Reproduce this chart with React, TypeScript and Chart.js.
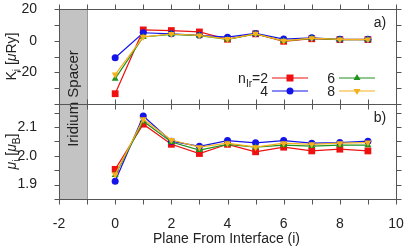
import { useEffect, useRef } from 'react';
import { Chart, registerables } from 'chart.js';

Chart.register(...registerables);

// Plane index measured from the interface
const planes = [0, 1, 2, 3, 4, 5, 6, 7, 8, 9];

// Layer-resolved anisotropy K_i (μRy) for each iridium spacer thickness
const kN2 = [-33.5, 6.8, 6.4, 5.5, 0.9, 4.3, -0.4, 1.2, 0.7, 0.7];
const kN4 = [-10.8, 5.0, 4.3, 3.4, 2.2, 4.6, 1.0, 1.8, 0.9, 0.9];
const kN6 = [-24.0, 2.3, 4.0, 3.2, 0.8, 4.2, -0.2, 1.5, 0.7, 0.7];
const kN8 = [-21.4, 2.4, 4.2, 3.3, 1.0, 4.3, -0.1, 1.6, 0.8, 0.8];

// Layer-resolved magnetic moment μ_i (μB)
const muN2 = [1.953, 2.11, 2.04, 2.008, 2.04, 2.014, 2.03, 2.017, 2.023, 2.017];
const muN4 = [1.912, 2.138, 2.051, 2.033, 2.053, 2.045, 2.053, 2.044, 2.046, 2.051];
const muN6 = [1.933, 2.12, 2.048, 2.02, 2.04, 2.03, 2.037, 2.034, 2.037, 2.037];
const muN8 = [1.935, 2.127, 2.055, 2.03, 2.044, 2.03, 2.044, 2.04, 2.044, 2.046];

// Spacer thickness labels
const spacerCounts = ['2', '4', '6', '8'];

// Axis ticks
const xTicks = [-2, -1, 0, 1, 2, 3, 4, 5, 6, 7, 8, 9, 10];
const xTickLabels = ['-2', '', '0', '', '2', '', '4', '', '6', '', '8', '', '10'];
const kTicks = [-40, -30, -20, -10, 0, 10, 20];
const kTickLabels = ['', '', '-20', '', '0', '', '20'];
const muTicks = [1.85, 1.9, 1.95, 2.0, 2.05, 2.1, 2.15];
const muTickLabels = ['', '1.9', '', '2.0', '', '2.1', ''];

// Spacer region along the plane axis
const spacerRange = [-2, -1];

const FONT = '"Liberation Sans", Arial, Helvetica, sans-serif';
const INK = '#222222';
const FRAME = '#555555';

type Style = { color: string; shape: 'rect' | 'circle' | 'tri' | 'triDown' };
const styles: Style[] = [
  { color: '#ee1111', shape: 'rect' },
  { color: '#1414e8', shape: 'circle' },
  { color: '#1f921f', shape: 'tri' },
  { color: '#f5b01c', shape: 'triDown' },
];

type Run = { t: string; sub?: boolean; it?: boolean };

function runFont(r: Run, size: number) {
  const s = r.sub ? size * 0.72 : size;
  return `${r.it ? 'italic ' : ''}${s}px ${FONT}`;
}

function drawRich(
  ctx: CanvasRenderingContext2D,
  runs: Run[],
  x: number,
  cy: number,
  size: number,
  align: 'left' | 'center' | 'right',
) {
  ctx.save();
  ctx.textBaseline = 'alphabetic';
  ctx.textAlign = 'left';
  let total = 0;
  const widths = runs.map((r) => {
    ctx.font = runFont(r, size);
    const w = ctx.measureText(r.t).width;
    total += w;
    return w;
  });
  let cx = align === 'left' ? x : align === 'center' ? x - total / 2 : x - total;
  const base = cy + size * 0.36;
  runs.forEach((r, i) => {
    ctx.font = runFont(r, size);
    ctx.fillText(r.t, cx, base + (r.sub ? size * 0.28 : 0));
    cx += widths[i];
  });
  ctx.restore();
}

function drawMarker(ctx: CanvasRenderingContext2D, shape: Style['shape'], x: number, y: number, color: string) {
  ctx.save();
  ctx.fillStyle = color;
  ctx.beginPath();
  if (shape === 'rect') {
    ctx.rect(x - 3.5, y - 3.5, 7, 7);
  } else if (shape === 'circle') {
    ctx.arc(x, y, 3.5, 0, Math.PI * 2);
  } else if (shape === 'tri') {
    ctx.moveTo(x, y - 4);
    ctx.lineTo(x + 3.5, y + 2);
    ctx.lineTo(x - 3.5, y + 2);
    ctx.closePath();
  } else {
    ctx.moveTo(x, y + 4);
    ctx.lineTo(x + 3.5, y - 2);
    ctx.lineTo(x - 3.5, y - 2);
    ctx.closePath();
  }
  ctx.fill();
  ctx.restore();
}

const decorations = {
  id: 'panelDecorations',
  beforeDatasetsDraw(chart: any) {
    const { ctx, chartArea, scales } = chart;
    const x = scales.x;
    const x0 = x.getPixelForValue(spacerRange[0]);
    const x1 = x.getPixelForValue(spacerRange[1]);
    ctx.save();
    ctx.fillStyle = '#c3c3c3';
    ctx.fillRect(x0, chartArea.top, x1 - x0, chartArea.bottom - chartArea.top);
    ctx.strokeStyle = '#9a9a9a';
    ctx.lineWidth = 1;
    ctx.beginPath();
    ctx.moveTo(Math.round(x1) + 0.5, chartArea.top);
    ctx.lineTo(Math.round(x1) + 0.5, chartArea.bottom);
    ctx.stroke();
    ctx.restore();

    // Rotated spacer caption
    ctx.save();
    ctx.fillStyle = INK;
    ctx.translate((x0 + x1) / 2 + 1, 98.5);
    ctx.rotate(-Math.PI / 2);
    ctx.font = `15px ${FONT}`;
    ctx.textAlign = 'center';
    ctx.textBaseline = 'middle';
    ctx.fillText('Iridium Spacer', 0, 0);
    ctx.restore();
  },
  afterDraw(chart: any) {
    const { ctx, chartArea, scales } = chart;
    const x = scales.x;
    const panels = [
      { s: scales.yTop, ticks: kTicks, tag: 'a)' },
      { s: scales.yBot, ticks: muTicks, tag: 'b)' },
    ];
    const L = Math.round(chartArea.left) + 0.5;
    const R = Math.round(chartArea.right) + 0.5;
    const tl = 5;
    ctx.save();
    ctx.strokeStyle = FRAME;
    ctx.lineWidth = 1;
    panels.forEach((p) => {
      const T = Math.round(p.s.top) + 0.5;
      const B = Math.round(p.s.bottom) + 0.5;
      ctx.strokeRect(L, T, R - L, B - T);
      ctx.beginPath();
      p.ticks.forEach((v) => {
        const py = Math.round(p.s.getPixelForValue(v)) + 0.5;
        ctx.moveTo(L - tl, py);
        ctx.lineTo(L, py);
        ctx.moveTo(R, py);
        ctx.lineTo(R + tl, py);
      });
      xTicks.forEach((v) => {
        const px = Math.round(x.getPixelForValue(v)) + 0.5;
        ctx.moveTo(px, T - tl);
        ctx.lineTo(px, T);
        ctx.moveTo(px, B);
        ctx.lineTo(px, B + tl);
      });
      ctx.stroke();
      ctx.fillStyle = INK;
      ctx.font = `14px ${FONT}`;
      ctx.textAlign = 'center';
      ctx.textBaseline = 'middle';
      ctx.fillText(p.tag, x.getPixelForValue(9.5) - 2, p.s.top + 14);
    });
    ctx.restore();

    // Axis titles
    ctx.save();
    ctx.translate(11, (scales.yTop.top + scales.yTop.bottom) / 2);
    ctx.rotate(-Math.PI / 2);
    ctx.fillStyle = INK;
    drawRich(ctx, [{ t: 'K' }, { t: 'i', sub: true }, { t: ' [' }, { t: 'μ', it: true }, { t: 'Ry]' }], 0, 0, 14, 'center');
    ctx.restore();
    ctx.save();
    ctx.translate(11, (scales.yBot.top + scales.yBot.bottom) / 2);
    ctx.rotate(-Math.PI / 2);
    ctx.fillStyle = INK;
    drawRich(ctx, [{ t: 'μ', it: true }, { t: 'i', sub: true }, { t: ' [' }, { t: 'μ', it: true }, { t: 'B', sub: true }, { t: ']' }], 0, 0, 14, 'center');
    ctx.restore();
    ctx.save();
    ctx.fillStyle = INK;
    drawRich(ctx, [{ t: 'Plane From Interface (i)' }], (chartArea.left + chartArea.right) / 2 - 1, 238, 14, 'center');
    ctx.restore();

    // Legend: two columns of two entries
    const cols = [268, 335];
    const rows = [78, 91];
    spacerCounts.forEach((n, i) => {
      const col = cols[Math.floor(i / 2)];
      const row = rows[i % 2];
      const st = styles[i];
      ctx.save();
      ctx.fillStyle = INK;
      const runs: Run[] = i === 0 ? [{ t: 'n' }, { t: 'Ir', sub: true }, { t: '=' + n }] : [{ t: n }];
      drawRich(ctx, runs, col, row, 14, 'right');
      ctx.strokeStyle = st.color;
      ctx.lineWidth = 1.2;
      ctx.beginPath();
      ctx.moveTo(col + 4, row);
      ctx.lineTo(col + 40, row);
      ctx.stroke();
      drawMarker(ctx, st.shape, col + 22, row, st.color);
      ctx.restore();
    });
  },
};

function series(values: number[], idx: number, axis: string) {
  const st = styles[idx];
  const pointStyle = st.shape === 'rect' ? 'rect' : st.shape === 'circle' ? 'circle' : 'triangle';
  return {
    label: spacerCounts[idx],
    data: planes.map((p, j) => ({ x: p, y: values[j] })),
    yAxisID: axis,
    borderColor: st.color,
    backgroundColor: st.color,
    borderWidth: 1.2,
    pointStyle,
    pointRotation: st.shape === 'triDown' ? 180 : 0,
    pointRadius: st.shape === 'rect' ? 4.8 : st.shape === 'circle' ? 3.5 : 4,
    pointBorderWidth: 0,
    tension: 0,
  };
}

function tickList(values: number[]) {
  return (axis: any) => {
    axis.ticks = values.map((v) => ({ value: v }));
  };
}

// Fixed axis box sizes; label overhang is already covered by the layout padding
function fixedSize(w: number | null, h: number | null) {
  return (s: any) => {
    if (w !== null) s.width = w;
    if (h !== null) s.height = h;
    s.paddingLeft = 0;
    s.paddingRight = 0;
    s.paddingTop = 0;
    s.paddingBottom = 0;
  };
}

export default function App() {
  const ref = useRef<HTMLCanvasElement>(null);

  useEffect(() => {
    if (!ref.current) return;
    const tickFont = { family: FONT, size: 14 };
    const chart = new Chart(ref.current, {
      type: 'line',
      data: {
        datasets: [
          series(kN8, 3, 'yTop'),
          series(kN6, 2, 'yTop'),
          series(kN4, 1, 'yTop'),
          series(kN2, 0, 'yTop'),
          series(muN8, 3, 'yBot'),
          series(muN6, 2, 'yBot'),
          series(muN4, 1, 'yBot'),
          series(muN2, 0, 'yBot'),
        ] as any,
      },
      options: {
        responsive: false,
        animation: false,
        events: [],
        layout: { padding: { top: 9, right: 15, left: 0, bottom: 0 } },
        plugins: { legend: { display: false }, tooltip: { enabled: false } },
        scales: {
          x: {
            type: 'linear',
            position: 'bottom',
            min: -2,
            max: 10,
            afterBuildTicks: tickList(xTicks),
            afterFit: fixedSize(null, 49),
            ticks: {
              autoSkip: false,
              maxRotation: 0,
              padding: 9,
              color: INK,
              font: tickFont,
              callback: (_v: any, i: number) => xTickLabels[i],
            },
            grid: { display: false },
            border: { display: false },
          },
          yTop: {
            type: 'linear',
            position: 'left',
            stack: 'panels',
            stackWeight: 1,
            weight: 2,
            min: -40,
            max: 20,
            afterBuildTicks: tickList(kTicks),
            afterFit: fixedSize(59, null),
            ticks: {
              autoSkip: false,
              padding: 14,
              color: INK,
              font: tickFont,
              callback: (_v: any, i: number) => kTickLabels[i],
            },
            grid: { display: false },
            border: { display: false },
          },
          yBot: {
            type: 'linear',
            position: 'left',
            stack: 'panels',
            stackWeight: 1,
            weight: 1,
            min: 1.85,
            max: 2.18,
            afterBuildTicks: tickList(muTicks),
            afterFit: fixedSize(59, null),
            ticks: {
              autoSkip: false,
              padding: 14,
              color: INK,
              font: tickFont,
              callback: (_v: any, i: number) => muTickLabels[i],
            },
            grid: { display: false },
            border: { display: false },
          },
        } as any,
      },
      plugins: [decorations],
    });
    return () => chart.destroy();
  }, []);

  return (
    <div style={{ position: 'fixed', left: 0, top: 0, width: 411, height: 248, background: '#fff' }}>
      <canvas ref={ref} width={411} height={248} style={{ width: 411, height: 248, display: 'block' }} />
    </div>
  );
}
